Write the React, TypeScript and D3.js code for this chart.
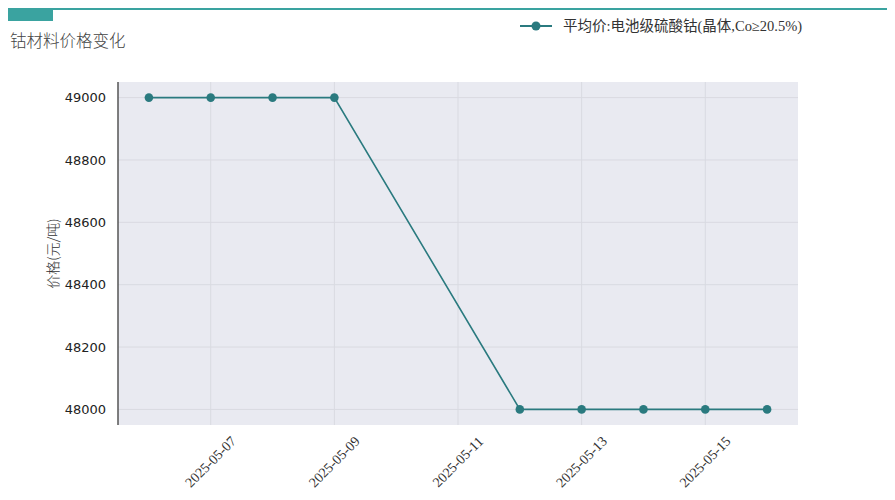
import React from "react";
import * as d3 from "d3";

const dates = ["2025-05-06", "2025-05-07", "2025-05-08", "2025-05-09", "2025-05-12", "2025-05-13", "2025-05-14", "2025-05-15", "2025-05-16"];
const prices = [49000, 49000, 49000, 49000, 48000, 48000, 48000, 48000, 48000];
const yTicks = [48000, 48200, 48400, 48600, 48800, 49000];
const xTickLabels = ["2025-05-07", "2025-05-09", "2025-05-11", "2025-05-13", "2025-05-15"];
const title = "钴材料价格变化";
const seriesName = "平均价:电池级硫酸钴(晶体,Co≥20.5%)";
const yLabel = "价格(元/吨)";

const W = 895, H = 500;
const COLOR = "#2a7a7f";
const parse = d3.utcParse("%Y-%m-%d");

export default function App() {
  const left = 118, right = 798, top = 82, bottom = 425;
  const d0 = parse("2025-05-06")!, d1 = parse("2025-05-16")!;
  const span = +d1 - +d0;
  const x = d3.scaleUtc().domain([new Date(+d0 - span * 0.05), new Date(+d1 + span * 0.05)]).range([left, right]);
  const y = d3.scaleLinear().domain([47950, 49050]).range([bottom, top]);
  const pts = dates.map((d, i) => ({ d: parse(d)!, v: prices[i] }));
  const line = d3.line<{ d: Date; v: number }>().x(p => x(p.d)).y(p => y(p.v));
  const serif = "'Liberation Serif', 'DejaVu Serif', 'Noto Sans CJK SC', serif";
  const cjk = "'Noto Sans CJK SC', sans-serif";
  return (
    <svg width={W} height={H} style={{ position: "absolute", left: 0, top: 0 }}>
      <rect x={0} y={0} width={W} height={H} fill="#fff" />
      <rect x={8} y={8} width={879} height={2} fill="#3aa3a0" />
      <rect x={8} y={8} width={45} height={13} fill="#3aa3a0" />
      <text x={10} y={47} fontFamily={cjk} fontSize={16.5} fontWeight={300} fill="#444">{title}</text>
      <line x1={520} x2={552} y1={26} y2={26} stroke={COLOR} strokeWidth={2} />
      <circle cx={536} cy={26} r={4.5} fill={COLOR} />
      <text x={563} y={31} fontFamily={serif} fontSize={14.5} fill="#333">{seriesName}</text>
      <rect x={left} y={top} width={right - left} height={bottom - top} fill="#e9eaf1" />
      {yTicks.map(t => (
        <line key={"g" + t} x1={left} x2={right} y1={y(t)} y2={y(t)} stroke="#d9dae1" strokeWidth={1} />
      ))}
      {xTickLabels.map(t => (
        <line key={"gx" + t} x1={x(parse(t)!)} x2={x(parse(t)!)} y1={top} y2={bottom} stroke="#d9dae1" strokeWidth={1} />
      ))}
      <line x1={left} x2={left} y1={top} y2={bottom} stroke="#555" strokeWidth={1.5} />
      {yTicks.map(t => (
        <text key={"yt" + t} x={106} y={y(t)} dy="0.35em" textAnchor="end" fontFamily="'DejaVu Sans', sans-serif" fontSize={13} fill="#222">{t}</text>
      ))}
      {xTickLabels.map(t => {
        const px = x(parse(t)!);
        return (
          <text key={"xt" + t} transform={`translate(${px},462) rotate(-45)`} textAnchor="middle" dominantBaseline="central" fontFamily={serif} fontSize={14} fill="#333">{t}</text>
        );
      })}
      <text transform={`translate(52,${(top + bottom) / 2}) rotate(-90)`} textAnchor="middle" dominantBaseline="central" fontFamily={cjk} fontSize={14} fontWeight={300} fill="#333">{yLabel}</text>
      <path d={line(pts)!} fill="none" stroke={COLOR} strokeWidth={1.6} />
      {pts.map((p, i) => (
        <circle key={i} cx={x(p.d)} cy={y(p.v)} r={4.3} fill={COLOR} />
      ))}
    </svg>
  );
}
